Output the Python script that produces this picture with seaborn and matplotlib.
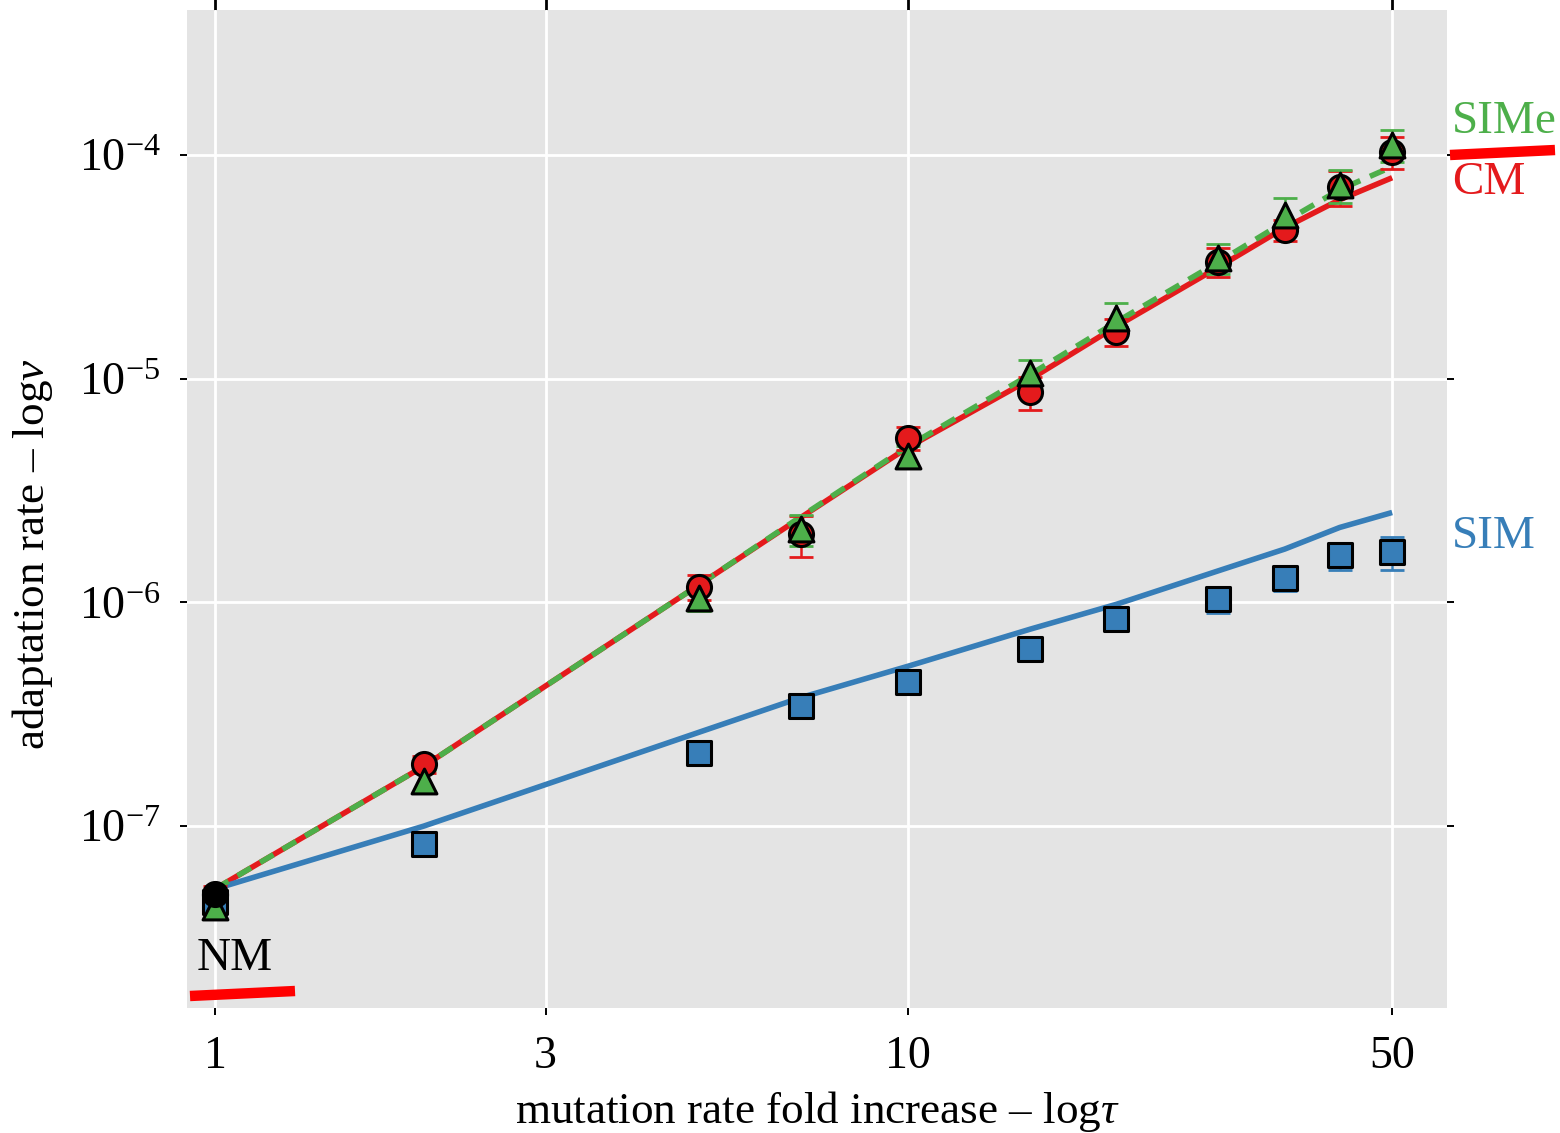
import matplotlib
matplotlib.use("Agg")
import matplotlib.pyplot as plt
import matplotlib.transforms as mtransforms
from matplotlib.lines import Line2D
from matplotlib.ticker import FixedLocator, FixedFormatter, NullLocator
import seaborn as sns

# ---------------- data ----------------
tau = [1, 2, 5, 7, 10, 15, 20, 28, 35, 42, 50]

# simulation points
cm_rate = [4.9e-8, 1.89e-7, 1.17e-6, 2.01e-6, 5.45e-6, 8.66e-6, 1.62e-5, 3.33e-5, 4.63e-5, 7.19e-5, 1.03e-4]
cm_err = [5e-9, 1.6e-8, 1.5e-7, 4.1e-7, 6.5e-7, 1.45e-6, 2.3e-6, 4.8e-6, 5.0e-6, 1.29e-5, 1.65e-5]

sim_rate = [4.6e-8, 8.3e-8, 2.13e-7, 3.44e-7, 4.39e-7, 6.16e-7, 8.4e-7, 1.03e-6, 1.29e-6, 1.62e-6, 1.67e-6]
sim_err = [4e-9, 4.4e-9, 1.8e-8, 3.0e-8, 3.8e-8, 6.7e-8, 9.1e-8, 1.35e-7, 1.7e-7, 2.3e-7, 2.8e-7]

sime_rate = [4.35e-8, 1.59e-7, 1.05e-6, 2.12e-6, 4.49e-6, 1.06e-5, 1.87e-5, 3.47e-5, 5.39e-5, 7.34e-5, 1.11e-4]
sime_err = [4.7e-9, 1.9e-8, 1.4e-7, 3.3e-7, 4.9e-7, 1.5e-6, 3.1e-6, 5.4e-6, 1.03e-5, 1.23e-5, 1.85e-5]

nm_tau = [1]
nm_rate = [4.97e-8]

# theory curves
cm_theory = [5.24e-8, 1.85e-7, 1.20e-6, 2.39e-6, 4.92e-6, 9.9e-6, 1.71e-5, 3.13e-5, 4.72e-5, 6.29e-5, 7.89e-5]
sime_theory = [5.24e-8, 1.85e-7, 1.20e-6, 2.41e-6, 4.98e-6, 1.04e-5, 1.79e-5, 3.30e-5, 5.02e-5, 6.98e-5, 8.84e-5]
sim_theory = [5.24e-8, 1.0e-7, 2.63e-7, 3.75e-7, 5.18e-7, 7.58e-7, 9.8e-7, 1.38e-6, 1.73e-6, 2.16e-6, 2.52e-6]

x_ticks = [1, 3, 10, 50]
x_tick_labels = ["1", "3", "10", "50"]
y_ticks = [1e-7, 1e-6, 1e-5, 1e-4]
y_tick_labels = [r"$10^{-7}$", r"$10^{-6}$", r"$10^{-5}$", r"$10^{-4}$"]

RED = "#e41a1c"
BLUE = "#377eb8"
GREEN = "#4daf4a"
LINE_W = 4.0

# ---------------- style ----------------
sns.set_theme(style="darkgrid", rc={
    "axes.facecolor": "#e4e4e4",
    "grid.color": "white",
    "grid.linewidth": 2.0,
    "lines.linewidth": LINE_W,
})
plt.rcParams["font.family"] = ["Liberation Serif", "DejaVu Serif"]
plt.rcParams["mathtext.fontset"] = "custom"
plt.rcParams["mathtext.rm"] = "Liberation Serif"
plt.rcParams["mathtext.it"] = "Liberation Serif:italic"
plt.rcParams["mathtext.bf"] = "Liberation Serif:bold"

fig = plt.figure(figsize=(15.6, 11.33), dpi=100)
ax = fig.add_axes([187 / 1560, 1 - 1008 / 1133, 1260 / 1560, 998 / 1133])
ax.set_xscale("log")
ax.set_yscale("log")

# theory lines
n0 = len(ax.lines)
sns.lineplot(x=tau, y=cm_theory, ax=ax, color=RED, estimator=None, sort=False, zorder=2)
sns.lineplot(x=tau, y=sim_theory, ax=ax, color=BLUE, estimator=None, sort=False, zorder=2)
sns.lineplot(x=tau, y=sime_theory, ax=ax, color=GREEN, estimator=None, sort=False, zorder=2.1)
theory_lines = list(ax.lines)[n0:]
for ln in theory_lines:
    ln.set_linewidth(LINE_W)
    ln.set_solid_capstyle("butt")
    ln.set_dash_capstyle("butt")
theory_lines[-1].set_linestyle((0, (2.8, 1.9)))

# error bars
ekw = dict(fmt="none", elinewidth=1.8, capsize=8.5, capthick=2.0, zorder=3)
ax.errorbar(tau, cm_rate, yerr=cm_err, ecolor=RED, **ekw)
ax.errorbar(tau, sim_rate, yerr=sim_err, ecolor=BLUE, **ekw)
ax.errorbar(tau, sime_rate, yerr=sime_err, ecolor=GREEN, **ekw)

# markers
sns.scatterplot(x=tau, y=cm_rate, ax=ax, marker="o", s=300, color=RED, edgecolor="black", linewidth=2.2, zorder=4)
sns.scatterplot(x=tau, y=sim_rate, ax=ax, marker="s", s=300, color=BLUE, edgecolor="black", linewidth=2.2, zorder=4)
sns.scatterplot(x=tau, y=sime_rate, ax=ax, marker="^", s=320, color=GREEN, edgecolor="black", linewidth=2.2, zorder=5)
sns.scatterplot(x=nm_tau, y=nm_rate, ax=ax, marker="o", s=300, color="black", edgecolor="black", linewidth=2.2, zorder=6)

# axes limits / ticks
ax.set_xlim(0.911, 60.0)
ax.set_ylim(1.54e-8, 4.43e-4)
ax.xaxis.set_major_locator(FixedLocator(x_ticks))
ax.xaxis.set_major_formatter(FixedFormatter(x_tick_labels))
ax.xaxis.set_minor_locator(NullLocator())
ax.yaxis.set_major_locator(FixedLocator(y_ticks))
ax.yaxis.set_major_formatter(FixedFormatter(y_tick_labels))
ax.yaxis.set_minor_locator(NullLocator())
ax.tick_params(axis="both", which="major", direction="out", length=5, width=1.4, color="black",
               labelsize=33, labelcolor="black", bottom=True, left=True, right=True)
ax.tick_params(axis="x", pad=15)
ax.tick_params(axis="y", pad=14)
for s in ax.spines.values():
    s.set_visible(False)
ax.grid(True, which="major")

top = ax.secondary_xaxis("top")
top.xaxis.set_major_locator(FixedLocator(x_ticks))
top.xaxis.set_minor_locator(NullLocator())
top.tick_params(axis="x", direction="out", length=10, width=2.0, color="black", labeltop=False)
for s in top.spines.values():
    s.set_visible(False)

ax.set_xlabel(r"mutation rate fold increase – log$\it{\tau}$", fontsize=32.5, color="black", labelpad=8)
ax.set_ylabel(r"adaptation rate – log$\it{\nu}$", fontsize=32.5, color="black")
ax.yaxis.set_label_coords(-0.105, 0.455)

# curve labels
bt = mtransforms.blended_transform_factory(ax.transAxes, ax.transData)
ax.text(1.004, 1.40e-4, "SIMe", color=GREEN, fontsize=34, ha="left", va="center", transform=bt, clip_on=False)
ax.text(1.004, 7.5e-5, "CM", color=RED, fontsize=34, ha="left", va="center", transform=bt, clip_on=False)
ax.text(1.004, 1.97e-6, "SIM", color=BLUE, fontsize=34, ha="left", va="center", transform=bt, clip_on=False)
ax.text(0.94, 2.55e-8, "NM", color="black", fontsize=34, ha="left", va="center")

# red underline marks
fig.add_artist(Line2D([1450 / 1560, 1555 / 1560], [1 - 155 / 1133, 1 - 150 / 1133], color="#ff0000",
                      lw=7.5, solid_capstyle="butt", transform=fig.transFigure))
fig.add_artist(Line2D([190 / 1560, 295 / 1560], [1 - 996 / 1133, 1 - 991 / 1133], color="#ff0000",
                      lw=7.5, solid_capstyle="butt", transform=fig.transFigure))

fig.savefig("out.png", dpi=100)
